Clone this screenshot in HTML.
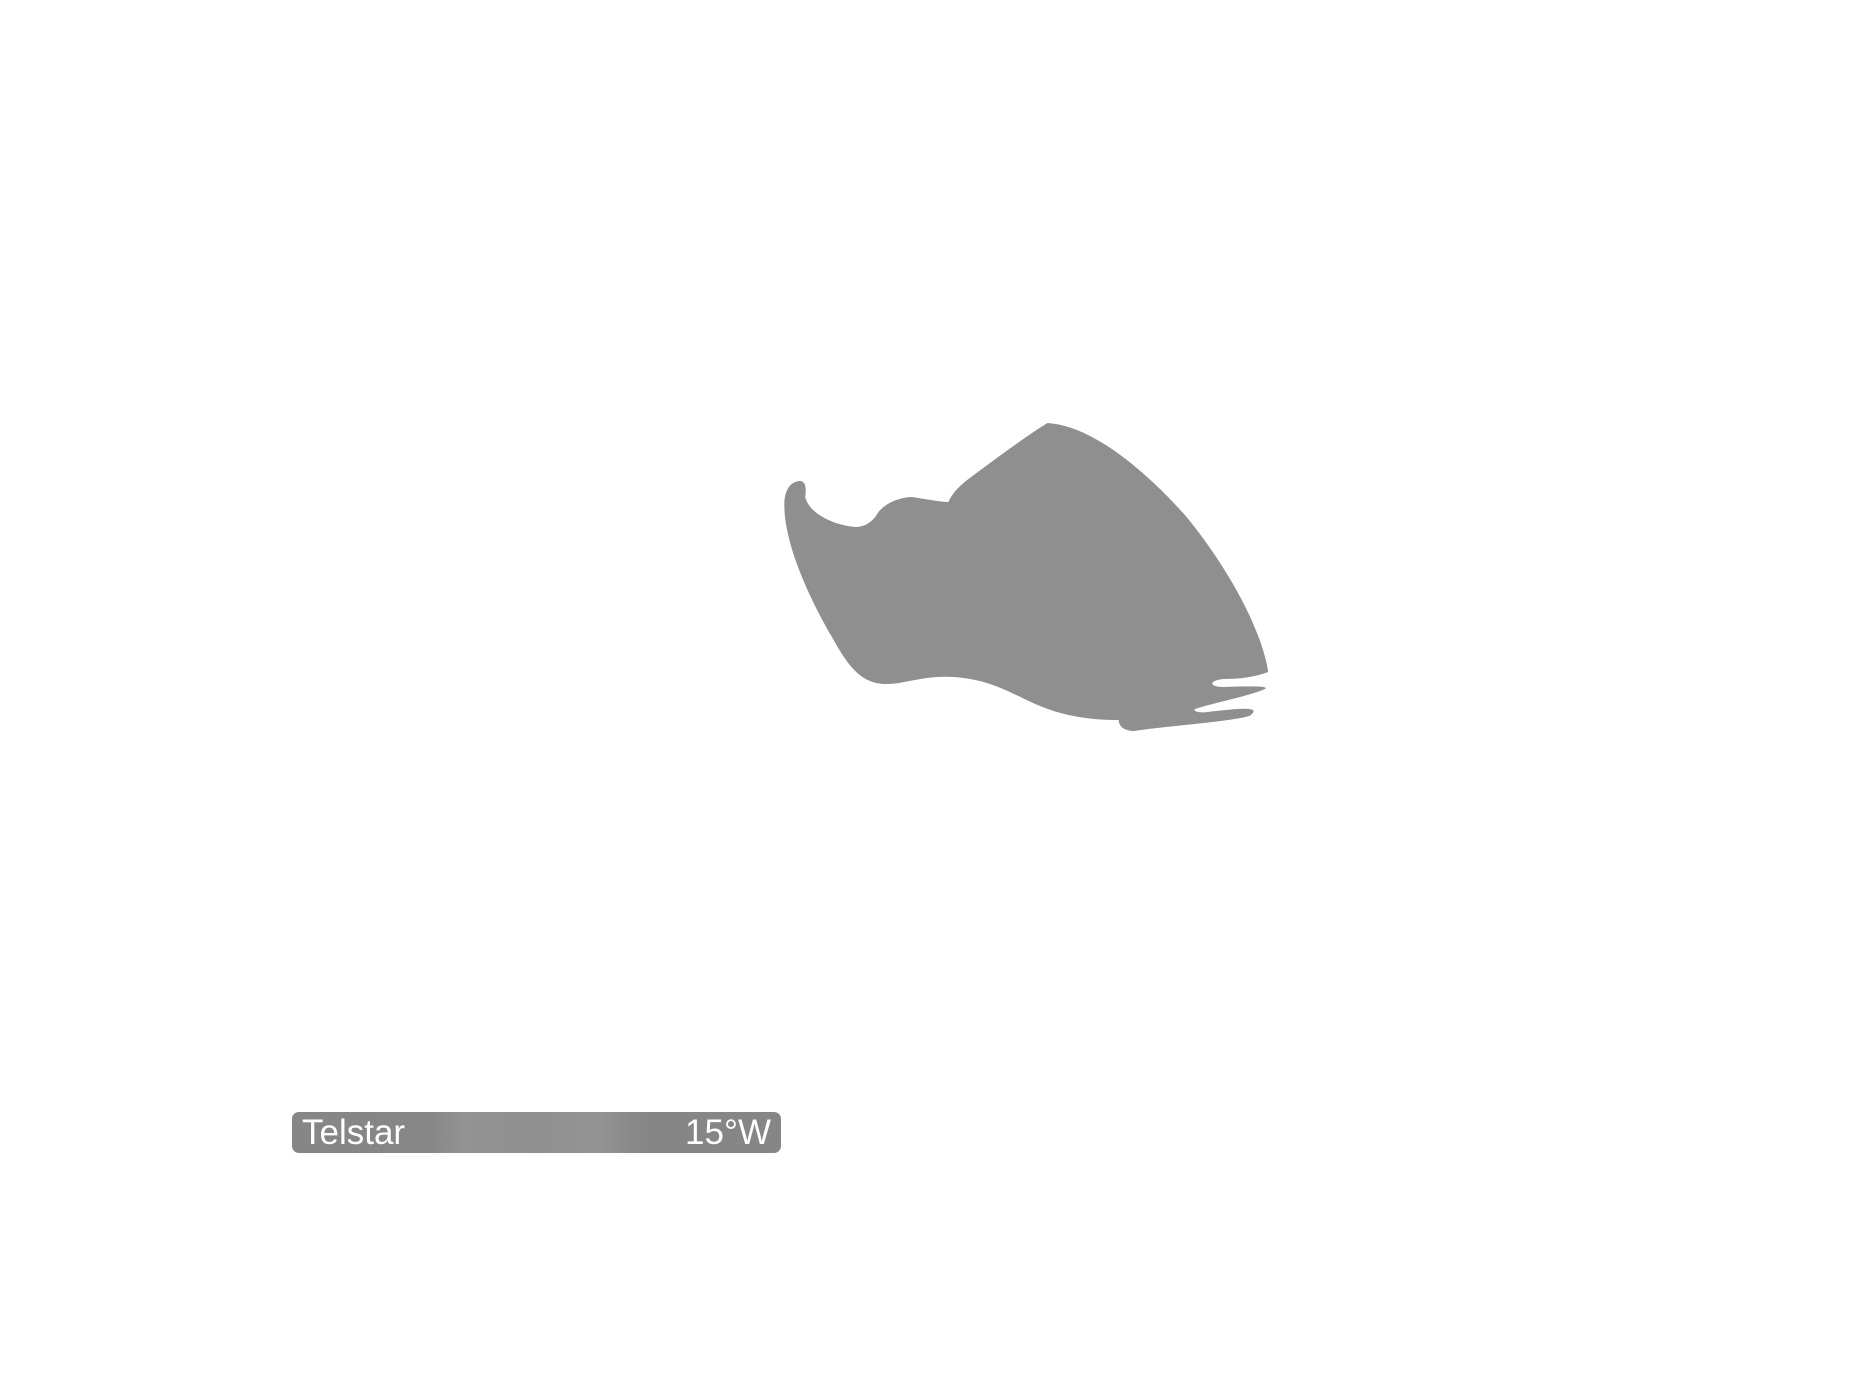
<!DOCTYPE html>
<html><head><style>
body{margin:0;width:1867px;height:1400px;background:#fff;overflow:hidden;position:relative;font-family:"Liberation Sans",sans-serif}
.bar{position:absolute;left:292px;top:1112px;width:489px;height:41px;border-radius:7px;background:linear-gradient(90deg,#868686 0%,#878787 28%,#939393 36%,#8f8f8f 50%,#949494 62%,#868686 72%,#868686 100%);color:#fff;font-size:35px;line-height:41px}
.bar span{position:absolute;top:0}
</style></head><body>
<svg width="1867" height="1400" style="position:absolute;left:0;top:0">
<path fill="#908f90" transform="translate(800,0) scale(1.045,1) translate(-800,0)" d="M1037,423 C1080,426 1130,470 1170,517 C1215,575 1243,635 1248,672 C1235,677 1222,679 1205,679 C1190,681 1192,687 1205,687 C1230,686 1250,686 1245,689 C1230,696 1195,703 1178,709 C1175,712 1185,713 1190,712 C1215,709 1245,705 1230,716 C1210,722 1150,726 1120,731 C1110,731 1105,726 1105,720 C1090,720 1065,719 1040,710 C1010,700 990,680 947,677 C920,675 900,684 883,684 C860,684 848,670 830,636 C810,600 785,545 785,505 C785,485 795,481 800,481 C806,481 806,490 805,497 C808,512 830,525 853,527 C865,527 872,518 875,512 C885,500 900,497 907,497 C920,499 935,502 942,502 C945,495 950,488 960,480 C985,460 1025,430 1037,423 Z"/>
</svg>
<div class="bar"><span style="left:10px">Telstar</span><span style="right:10px">15°W</span></div>
</body></html>
